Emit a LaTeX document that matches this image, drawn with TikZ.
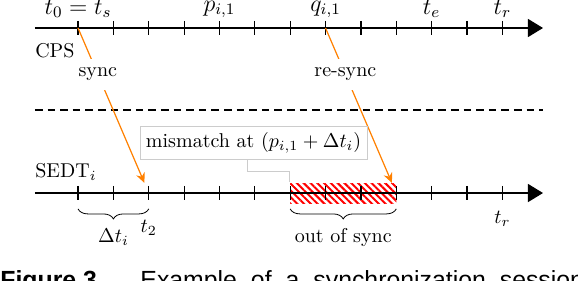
\documentclass[tikz,border=0pt]{standalone}
\usepackage{fontspec}
\newfontfamily\legendefont{Liberation Sans}
\usetikzlibrary{calc,positioning,arrows.meta,decorations.pathreplacing,patterns.meta}

\begin{document}
\begin{tikzpicture}[x=0.621cm,y=0.621cm]
        \tikzstyle {axe} = [semithick, -{Triangle[length=7.5pt,width=9pt]}]
        \tikzstyle {graduation} = [semithick]
        \tikzstyle {instant} = [font=\large, inner sep=2.5pt]
        \tikzstyle {synchro} = [orange, semithick, -{Stealth[length=5pt,width=4.5pt]}, shorten >=5.5pt]
        \tikzstyle {etiquette} = [fill=white, text=black, inner sep=4.5pt]
        \tikzstyle {accolade} = [decorate, decoration={brace, mirror, amplitude=5pt}]
        \tikzstyle {boite} = [rectangle, draw=black!20, fill=white, inner sep=3pt]
        \tikzstyle {hachure} = [rectangle, minimum width=53pt, minimum height=10pt, inner sep=0pt, pattern={Lines[angle=-45,distance=2.4pt,line width=1pt]}, pattern color=red]
        \tikzstyle {legende} = [anchor=base west, inner sep=0pt]
        \useasboundingbox (-2.207,0.792) rectangle (14.14,-7.13);

        % CPS
        \coordinate (cps_debut) at (-1.22,0);
        \coordinate (cps_fin) at (13.15,0);
        \draw[axe] (cps_debut) -- (cps_fin);
        \foreach \i in {0,...,12} {
            \coordinate (c\i) at (\i,0);
            \draw[graduation] ($(c\i)+(0,0.2)$) -- ($(c\i)+(0,-0.2)$);
        }
        \node (cps) [below right=14.5pt and 0pt of cps_debut, anchor=base west, inner sep=0pt]{CPS};
        \node (ts) [instant, above=2.4pt of c0]{$t_0 = t_s$};
        \node (p_i) [instant, above=2.4pt of c4]{$p_{i,1}$};
        \node (q_i) [instant, above=2.4pt of c7]{$q_{i,1}$};
        \node (te) [instant, above=2.4pt of c10]{$t_e$};
        \node (tr_cps) [instant, above=2.4pt of c12]{$t_r$};

        % Séparation
        \coordinate (sep_debut) at (-1.22,-2.32);
        \coordinate (sep_fin) at (13.15,-2.32);
        \draw[semithick, dash pattern=on 3.8pt off 2.5pt] (sep_debut) -- (sep_fin);

        % SEDT
        \node (decalage) [hachure] at (7.5,-4.667) {};
        \coordinate (sedt_debut) at (-1.22,-4.667);
        \coordinate (sedt_fin) at (13.15,-4.667);
        \draw[axe] (sedt_debut) -- (sedt_fin);
        \foreach \i in {0,...,12} {
            \coordinate (s\i) at (\i,-4.667);
            \draw[graduation] ($(s\i)+(0,0.2)$) -- ($(s\i)+(0,-0.2)$);
        }
        \node (sedt) [above right=8pt and 0pt of sedt_debut, anchor=base west, inner sep=0pt]{SEDT$_i$};
        \draw[accolade] ($(s0)+(0,-0.45)$) -- ($(s2)+(0,-0.45)$);
        \node (delta_t) [anchor=north] at ($(s0)!0.5!(s2)+(0,-0.8)$) {$\Delta t_i$};
        \node (t2) [anchor=north] at ($(s2)+(0,-0.56)$) {$t_2$};
        \draw[accolade] ($(s6)+(0,-0.45)$) -- ($(s9)+(0,-0.45)$);
        \node (hors_sync) [anchor=north] at ($(s6)!0.5!(s9)+(0,-0.8)$) {out of sync};
        \node (tr_sedt) [anchor=north] at ($(s12)+(0,-0.32)$) {$t_r$};

        % Synchronisations
        \draw[synchro] (c0) -- node (lbl_sync) [etiquette, pos=0.28]{sync} (s2);
        \draw[synchro] (c7) -- node (lbl_resync) [etiquette, pos=0.28]{re-sync} (s9);

        % Désaccord
        \node (mismatch) [boite] at (4.965,-3.24) {mismatch at $(p_{i,1} + \Delta t_i)$};
        \coordinate (coude) at (4.78,-4.045);
        \draw[black!20] (mismatch.south -| coude) -- (coude) -| (decalage.north west);

        % Légende
        \node (fig_num) [legende, font={\fontsize{12.4pt}{14pt}\legendefont\bfseries}] at (-2.207,-7.36) {Figure 3.};
        \node (fig_texte) [legende, font={\fontsize{12.4pt}{14pt}\legendefont}] at (1.754,-7.36) {\spaceskip=7pt Example of a synchronization session};
    \end{tikzpicture}
\end{document}
